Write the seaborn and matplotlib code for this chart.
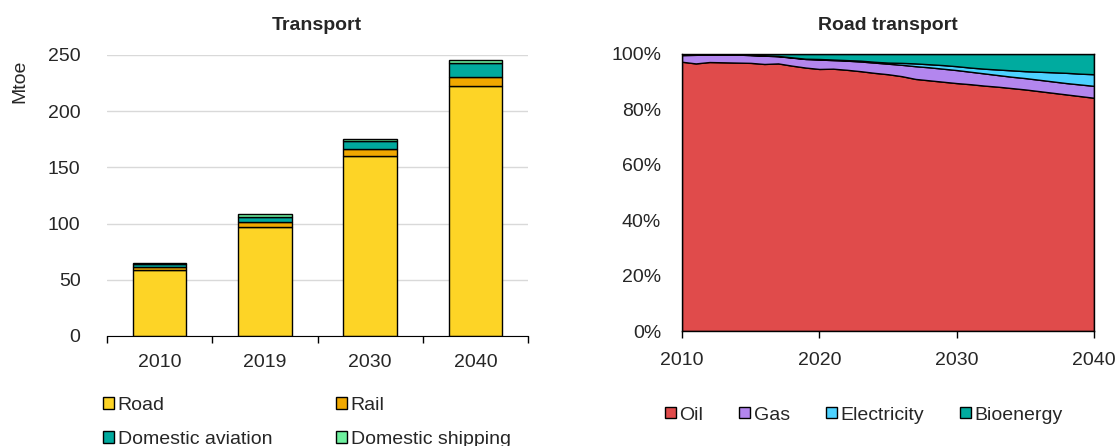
import numpy as np
import seaborn as sns
import matplotlib.pyplot as plt
from matplotlib.patches import Patch

# left panel: transport energy use by mode (Mtoe)
years = ['2010', '2019', '2030', '2040']
road = [58.5, 97.0, 160.0, 222.4]
rail = [3.0, 4.5, 6.0, 8.3]
aviation = [3.0, 4.8, 7.8, 12.0]
shipping = [0.5, 1.8, 1.7, 3.0]

# right panel: road transport fuel shares (%)
share_years = list(range(2010, 2041))
oil = [97.2, 96.6, 97.1, 97.0, 96.9, 96.8, 96.4, 96.6, 95.8, 95.1, 94.6,
       94.7, 94.3, 93.8, 93.2, 92.7, 92.0, 91.0, 90.5, 90.0, 89.5,
       89.1, 88.6, 88.2, 87.7, 87.2, 86.6, 86.0, 85.4, 84.8, 84.2]
gas = [2.4, 3.1, 2.7, 2.8, 2.9, 2.8, 3.0, 2.6, 2.9, 3.1, 3.4,
       3.1, 3.3, 3.5, 3.7, 3.8, 4.1, 4.6, 4.7, 4.7, 4.7,
       4.5, 4.4, 4.2, 4.1, 4.1, 4.1, 4.1, 4.1, 4.2, 4.3]
electricity = [0.1, 0.1, 0.1, 0.1, 0.1, 0.1, 0.1, 0.1, 0.1, 0.1, 0.2,
               0.2, 0.2, 0.3, 0.3, 0.4, 0.7, 1.0, 1.1, 1.3, 1.4,
               1.5, 1.7, 2.0, 2.3, 2.5, 2.9, 3.3, 3.7, 3.9, 4.2]
bioenergy = [0.3, 0.2, 0.1, 0.1, 0.1, 0.3, 0.5, 0.7, 1.2, 1.7, 1.8,
             2.0, 2.2, 2.4, 2.8, 3.1, 3.2, 3.4, 3.7, 4.0, 4.4,
             4.9, 5.3, 5.6, 5.9, 6.2, 6.4, 6.6, 6.8, 7.1, 7.3]

mode_names = ['Road', 'Rail', 'Domestic aviation', 'Domestic shipping']
mode_colors = ['#FDD426', '#F0A800', '#00AA9E', '#6EF09E']
fuel_names = ['Oil', 'Gas', 'Electricity', 'Bioenergy']
fuel_colors = ['#E04B4B', '#B386EE', '#4DD2FF', '#00AB9F']

sns.set_style('white')
plt.rcParams['font.family'] = ['Liberation Sans', 'DejaVu Sans']
plt.rcParams['font.size'] = 14

fig = plt.figure(figsize=(11.2, 4.46), dpi=100)
ax1 = fig.add_axes([107 / 1120, 1 - 336 / 446, 421 / 1120, 281 / 446])
ax2 = fig.add_axes([682 / 1120, 1 - 331 / 446, 412 / 1120, 277 / 446])

# stacked bars
bottom = np.zeros(len(years))
for vals, name, col in zip([road, rail, aviation, shipping], mode_names, mode_colors):
    sns.barplot(x=years, y=vals, bottom=bottom, color=col, saturation=1,
                edgecolor='black', linewidth=1, width=0.51, errorbar=None, ax=ax1)
    bottom = bottom + np.array(vals)

ax1.set_ylim(0, 250)
ax1.set_xlim(-0.5, 3.5)
ax1.set_yticks(range(0, 251, 50))
ax1.yaxis.grid(True, color='#D9D9D9', linewidth=1)
ax1.set_axisbelow(True)
for s in ['top', 'right', 'left']:
    ax1.spines[s].set_visible(False)
ax1.spines['bottom'].set_color('black')
ax1.set_xticks([-0.5, 0.5, 1.5, 2.5, 3.5], minor=True)
ax1.tick_params(axis='x', which='major', length=0, pad=13, labelsize=14)
ax1.tick_params(axis='x', which='minor', length=5, width=1, direction='out', color='black', bottom=True)
ax1.tick_params(axis='y', length=0, pad=19, labelsize=14)
ax1.set_xlabel('')
ax1.set_ylabel('')
fig.text(20 / 1120, 1 - 81 / 446, 'Mtoe', rotation=90, ha='center', va='center', fontsize=14)
fig.text(317 / 1120, 1 - 25 / 446, 'Transport', ha='center', va='center', fontsize=14, weight='bold')

# stacked area
ax2.stackplot(share_years, oil, gas, electricity, bioenergy, colors=fuel_colors,
              edgecolor='black', linewidth=1)
ax2.set_xlim(2010, 2040)
ax2.set_ylim(0, 100)
ax2.set_xticks([2010, 2020, 2030, 2040])
ax2.set_yticks(range(0, 101, 20))
ax2.set_yticklabels([f'{v}%' for v in range(0, 101, 20)])
for s in ax2.spines.values():
    s.set_color('black')
    s.set_linewidth(1)
ax2.tick_params(axis='x', length=5, width=1, direction='out', color='black', bottom=True, pad=10, labelsize=14)
ax2.tick_params(axis='y', length=0, pad=15, labelsize=14)
fig.text(888 / 1120, 1 - 25 / 446, 'Road transport', ha='center', va='center', fontsize=14, weight='bold')

# legends (row-wise order for the 2x2 legend)
h1 = [Patch(facecolor=c, edgecolor='black', linewidth=1, label=n) for n, c in zip(mode_names, mode_colors)]
h1 = [h1[0], h1[2], h1[1], h1[3]]
fig.legend(handles=h1, ncol=2, loc='upper left', bbox_to_anchor=(103 / 1120, 1 - 397 / 446),
           frameon=False, fontsize=14, handlelength=0.55, handleheight=0.55, handletextpad=0.2,
           columnspacing=3.3, labelspacing=0.85, borderpad=0, borderaxespad=0)
h2 = [Patch(facecolor=c, edgecolor='black', linewidth=1, label=n) for n, c in zip(fuel_names, fuel_colors)]
fig.legend(handles=h2, ncol=4, loc='center', bbox_to_anchor=(864 / 1120, 1 - 415 / 446),
           frameon=False, fontsize=14, handlelength=0.55, handleheight=0.55, handletextpad=0.2,
           columnspacing=1.85, borderpad=0, borderaxespad=0)

fig.savefig('out.png', dpi=100)
